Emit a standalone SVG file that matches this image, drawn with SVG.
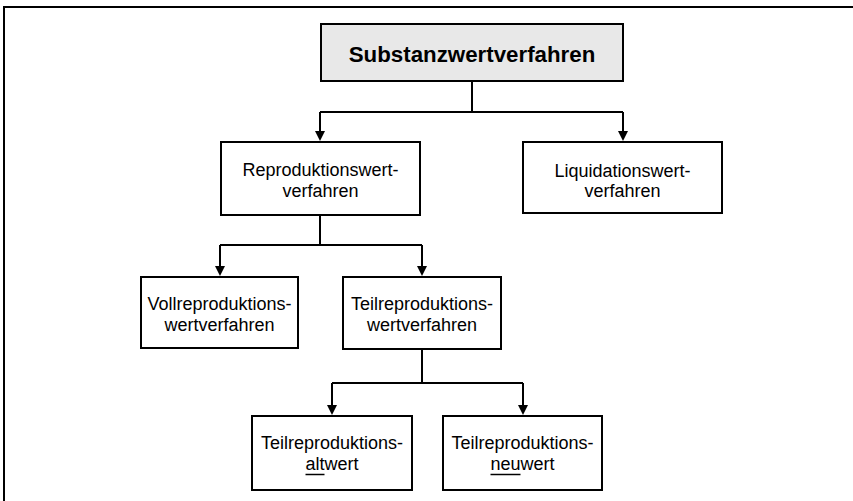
<svg xmlns="http://www.w3.org/2000/svg" width="853" height="501" viewBox="0 0 853 501">
  <style>
    .box { fill: #ffffff; stroke: #000000; stroke-width: 2; }
    .root { fill: #e8e8e8; stroke: #000000; stroke-width: 2; }
    .lbl { font-family: "Liberation Sans", Arial, sans-serif; font-size: 18px; fill: #000000; text-anchor: middle; }
    .title { font-family: "Liberation Sans", Arial, sans-serif; font-size: 22.3px; font-weight: bold; fill: #000000; text-anchor: middle; }
    .wire { fill: none; stroke: #000000; stroke-width: 2; }
    .arrow { fill: none; stroke: #000000; stroke-width: 2; marker-end: url(#head); }
    .ul { stroke: #000000; stroke-width: 1.5; }
  </style>
  <defs>
    <marker id="head" markerUnits="userSpaceOnUse" markerWidth="10" markerHeight="10" refX="6" refY="5" orient="auto">
      <path d="M0,0 L10,5 L0,10 z" fill="#000000"/>
    </marker>
  </defs>

  <!-- outer frame (open at right and bottom) -->
  <path d="M4,501 V7 H853" fill="none" stroke="#000000" stroke-width="2"/>

  <g id="connectors">
    <!-- Substanzwertverfahren -> level 1 -->
    <path class="wire" d="M472,81 V112"/>
    <path class="wire" d="M320,112 H623"/>
    <path class="arrow" d="M320,112 V137"/>
    <path class="arrow" d="M623,112 V137"/>
    <!-- Reproduktionswertverfahren -> level 2 -->
    <path class="wire" d="M320,215 V245"/>
    <path class="wire" d="M220,245 H422"/>
    <path class="arrow" d="M220,245 V272"/>
    <path class="arrow" d="M422,245 V272"/>
    <!-- Teilreproduktionswertverfahren -> level 3 -->
    <path class="wire" d="M422,349 V383"/>
    <path class="wire" d="M332,383 H523"/>
    <path class="arrow" d="M332,383 V411"/>
    <path class="arrow" d="M523,383 V411"/>
  </g>

  <g id="substanzwert">
    <rect class="root" x="321" y="24" width="302" height="57"/>
    <text class="title" x="472" y="62">Substanzwertverfahren</text>
  </g>

  <g id="reproduktionswert">
    <rect class="box" x="221" y="142" width="199" height="73"/>
    <text class="lbl" x="320.5" y="176">Reproduktionswert-</text>
    <text class="lbl" x="320.5" y="197">verfahren</text>
  </g>

  <g id="liquidationswert">
    <rect class="box" x="523" y="142" width="199" height="71"/>
    <text class="lbl" x="622.5" y="176.5">Liquidationswert-</text>
    <text class="lbl" x="622.5" y="197">verfahren</text>
  </g>

  <g id="vollreproduktion">
    <rect class="box" x="141" y="277" width="157" height="71"/>
    <text class="lbl" x="219.5" y="310">Vollreproduktions-</text>
    <text class="lbl" x="219.5" y="331">wertverfahren</text>
  </g>

  <g id="teilreproduktion">
    <rect class="box" x="343" y="277" width="158" height="72"/>
    <text class="lbl" x="422" y="310">Teilreproduktions-</text>
    <text class="lbl" x="422" y="331">wertverfahren</text>
  </g>

  <g id="altwert">
    <rect class="box" x="252" y="416" width="160" height="74"/>
    <text class="lbl" x="332" y="449">Teilreproduktions-</text>
    <text class="lbl" x="332" y="470">altwert</text>
    <line class="ul" x1="305.5" y1="474.5" x2="324.5" y2="474.5"/>
  </g>

  <g id="neuwert">
    <rect class="box" x="443" y="416" width="159" height="74"/>
    <text class="lbl" x="522.5" y="449">Teilreproduktions-</text>
    <text class="lbl" x="522.5" y="470">neuwert</text>
    <line class="ul" x1="490.5" y1="474.5" x2="520.5" y2="474.5"/>
  </g>
</svg>
